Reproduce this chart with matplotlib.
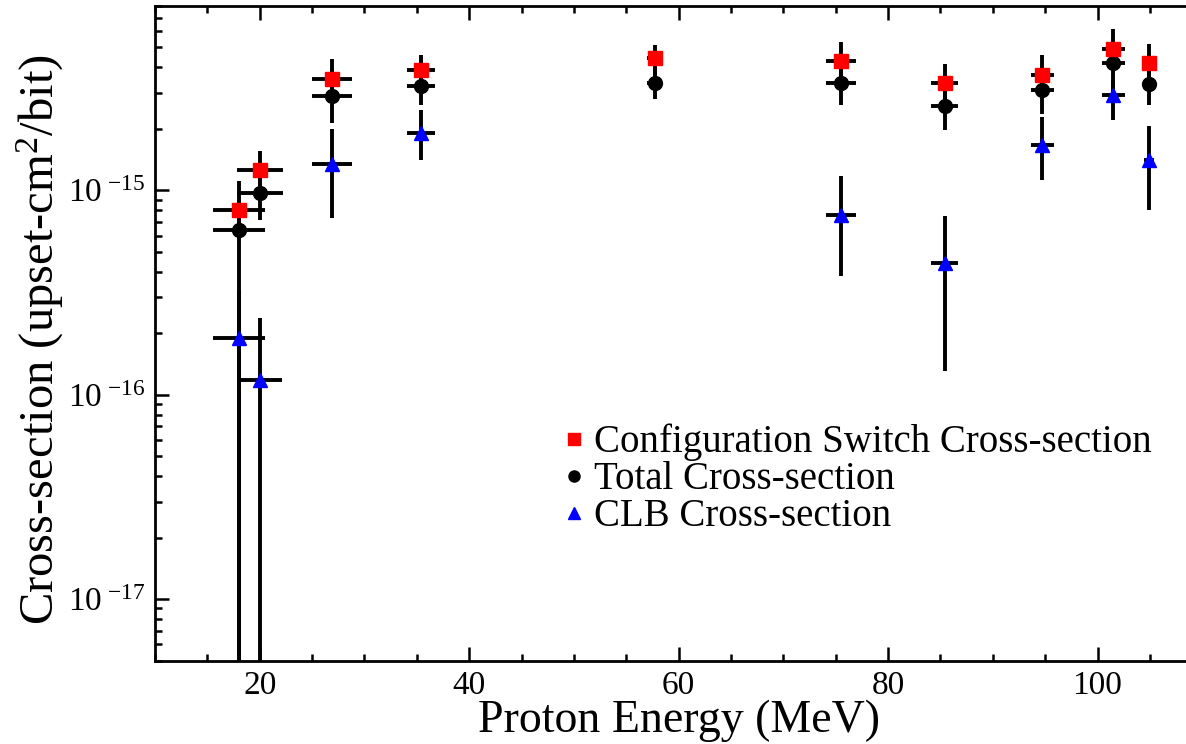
import numpy as np
import matplotlib
matplotlib.use("Agg")
import matplotlib.pyplot as plt
from matplotlib.ticker import MultipleLocator, LogLocator, FixedLocator, FuncFormatter, NullFormatter

plt.rcParams['font.family'] = ['Liberation Serif', 'DejaVu Serif']
plt.rcParams['mathtext.fontset'] = 'custom'
plt.rcParams['mathtext.rm'] = 'Liberation Serif'
plt.rcParams['mathtext.it'] = 'Liberation Serif:italic'
plt.rcParams['mathtext.bf'] = 'Liberation Serif:bold'

# ---------------- data ----------------
energy = [18.0, 20.0, 26.9, 35.4, 57.7, 75.5, 85.4, 94.7, 101.5, 104.9]
energy_err = [2.5, 2.2, 1.9, 1.3, 0.7, 1.4, 1.3, 1.1, 1.1, 0.5]

config = [7.98e-16, 1.25e-15, 3.52e-15, 3.86e-15, 4.42e-15, 4.28e-15, 3.33e-15, 3.68e-15, 4.92e-15, 4.17e-15]
config_lo = [6.0e-16, 1.00e-15, 2.81e-15, 3.18e-15, 3.68e-15, 3.48e-15, 2.78e-15, 3.05e-15, 3.90e-15, 3.48e-15]
config_hi = [1.107e-15, 1.552e-15, 4.40e-15, 4.61e-15, 5.16e-15, 5.30e-15, 4.16e-15, 4.61e-15, 6.12e-15, 5.21e-15]

total = [6.37e-16, 9.7e-16, 2.88e-15, 3.23e-15, 3.36e-15, 3.36e-15, 2.58e-15, 3.11e-15, 4.17e-15, 3.32e-15]
total_lo = [1e-19, 7.19e-16, 2.14e-15, 2.60e-15, 2.78e-15, 2.60e-15, 1.98e-15, 2.35e-15, 2.78e-15, 2.60e-15]
total_hi = [9.0e-16, 1.194e-15, 3.90e-15, 3.81e-15, 3.99e-15, 4.12e-15, 3.18e-15, 3.81e-15, 5.47e-15, 4.12e-15]

clb_energy = [18.0, 20.0, 26.9, 35.4, 75.5, 85.4, 94.7, 101.5, 104.9]
clb_energy_err = [2.5, 2.1, 1.9, 1.3, 1.4, 1.3, 1.1, 1.1, 0.5]
clb = [1.90e-16, 1.18e-16, 1.35e-15, 1.91e-15, 7.6e-16, 4.41e-16, 1.67e-15, 2.92e-15, 1.41e-15]
clb_lo = [1e-19, 1e-19, 7.33e-16, 1.40e-15, 3.79e-16, 1.30e-16, 1.127e-15, 2.20e-15, 7.98e-16]
clb_hi = [3.27e-16, 2.38e-16, 2.00e-15, 2.48e-15, 1.171e-15, 7.52e-16, 2.27e-15, 3.48e-15, 2.07e-15]

labels = ["Configuration Switch Cross-section", "Total Cross-section", "CLB Cross-section"]
x_ticks = [20, 40, 60, 80, 100]
y_ticks = [1e-17, 1e-16, 1e-15]

# ---------------- figure ----------------
fig = plt.figure(figsize=(11.86, 7.44), dpi=100)
ax = fig.add_axes([0.1307, 0.1120, 0.8830, 0.8804])
ax.set_yscale('log')


def yerr(vals, lo, hi):
    v = np.asarray(vals)
    return [v - np.asarray(lo), np.asarray(hi) - v]


elw = 2.8
for xs, xe, ys, lo, hi in [
    (energy, energy_err, config, config_lo, config_hi),
    (energy, energy_err, total, total_lo, total_hi),
    (clb_energy, clb_energy_err, clb, clb_lo, clb_hi),
]:
    ax.errorbar(xs, ys, xerr=xe, yerr=yerr(ys, lo, hi), fmt='none',
                ecolor='black', elinewidth=elw, capsize=0, zorder=2)

ax.plot(energy, config, linestyle='none', marker='s', ms=10.5, color='#ff0000',
        mec='#ff0000', zorder=4, label=labels[0])
ax.plot(energy, total, linestyle='none', marker='o', ms=10, color='black',
        mec='black', zorder=3, label=labels[1])
ax.plot(clb_energy, clb, linestyle='none', marker='^', ms=10, color='#0000ff',
        mec='#0000ff', zorder=4, label=labels[2])

ax.set_xlim(10, 110)
ax.set_ylim(5e-18, 8e-15)

ax.xaxis.set_major_locator(FixedLocator(x_ticks))
ax.xaxis.set_minor_locator(MultipleLocator(5))
ax.yaxis.set_major_locator(FixedLocator(y_ticks))
ax.yaxis.set_minor_locator(LogLocator(base=10, subs=np.arange(2, 10)))
ax.yaxis.set_minor_formatter(NullFormatter())


def yfmt(v, pos):
    e = int(np.round(np.log10(v)))
    return r'$\mathregular{10}^{\ \mathregular{%d}}$' % e


ax.yaxis.set_major_formatter(FuncFormatter(yfmt))

ax.tick_params(which='both', direction='in', top=True, right=True)
ax.tick_params(which='major', length=10, width=1.8, labelsize=24, pad=7)
ax.tick_params(which='minor', length=5, width=1.8)
for s in ax.spines.values():
    s.set_linewidth(2.0)

ax.set_xlabel('Proton Energy (MeV)', fontsize=33)
ax.set_ylabel(r'Cross-section (upset-cm$^2$/bit)', fontsize=35)
ax.xaxis.set_label_coords(0.5, -0.06)
ax.yaxis.set_label_coords(-0.085, 0.49)

leg = ax.legend(loc='upper left', bbox_to_anchor=(0.391, 0.362), frameon=False,
                fontsize=28, handlelength=0.5, handletextpad=0.25,
                labelspacing=0.0, borderpad=0, borderaxespad=0,
                markerscale=0.8, numpoints=1)

fig.savefig('out.png', dpi=100)
